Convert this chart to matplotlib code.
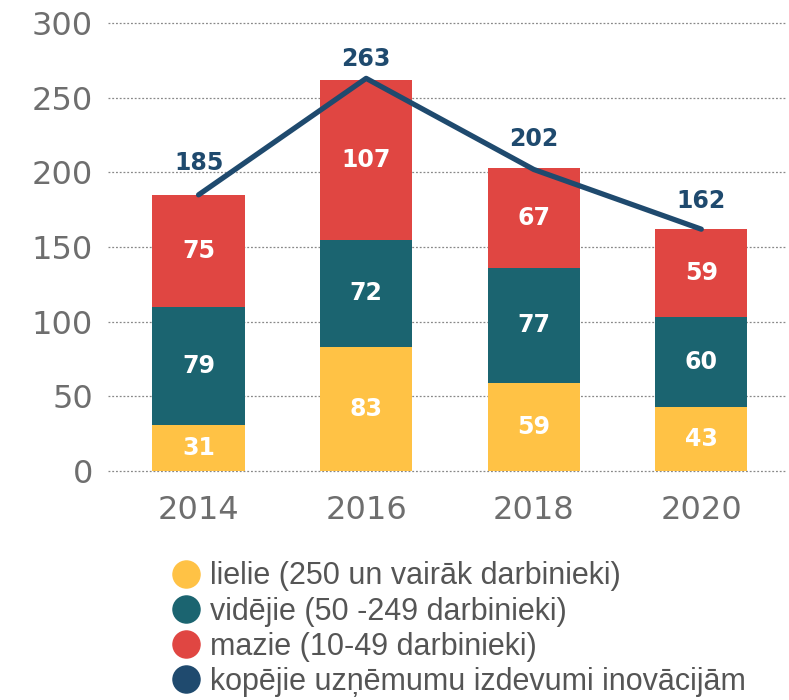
import matplotlib
matplotlib.use("Agg")
import matplotlib.pyplot as plt
from matplotlib.lines import Line2D
import numpy as np

years = ["2014", "2016", "2018", "2020"]
large = [31, 83, 59, 43]
medium = [79, 72, 77, 60]
small = [75, 107, 67, 59]
total = [185, 263, 202, 162]
legend_labels = [
    "lielie (250 un vairāk darbinieki)",
    "vidējie (50 -249 darbinieki)",
    "mazie (10-49 darbinieki)",
    "kopējie uzņēmumu izdevumi inovācijām",
]

c_large = "#FFC245"
c_medium = "#1B6470"
c_small = "#E04642"
c_total = "#1F4A6E"
gray = "#6E6E6E"

plt.rcParams["font.family"] = ["Liberation Sans", "DejaVu Sans"]
num_font = ["DejaVu Sans"]

fig = plt.figure(figsize=(7.89, 7.0), dpi=100)
ax = fig.add_axes([0.137, 0.327, 0.858, 0.640])

x = np.arange(len(years))
w = 0.55
b1 = ax.bar(x, large, w, color=c_large, zorder=2)
b2 = ax.bar(x, medium, w, bottom=large, color=c_medium, zorder=2)
bottom3 = np.array(large) + np.array(medium)
b3 = ax.bar(x, small, w, bottom=bottom3, color=c_small, zorder=2)

for vals, bots in [(large, [0]*4), (medium, large), (small, bottom3)]:
    for xi, v, b in zip(x, vals, bots):
        ax.text(xi, b + v / 2, str(v), ha="center", va="center", color="white",
                fontsize=17, fontweight="bold", family=num_font, zorder=4)

ax.plot(x, total, color=c_total, lw=3.8, zorder=3, solid_capstyle="round")
label_offsets = [18, 9, 17, 15.5]
for xi, t, off in zip(x, total, label_offsets):
    ax.annotate(str(t), (xi, t), xytext=(0, off), textcoords="offset points",
                ha="center", va="baseline", color=c_total, fontsize=17,
                fontweight="bold", family=num_font, zorder=4)

ax.set_ylim(0, 300)
ax.set_xlim(-0.54, 3.5)
ax.set_yticks([0, 50, 100, 150, 200, 250, 300])
ax.set_xticks(x)
ax.set_xticklabels(years)
ax.tick_params(axis="both", length=0, labelsize=23, colors=gray)
ax.tick_params(axis="y", pad=11)
ax.tick_params(axis="x", pad=17)
for lab in ax.get_xticklabels() + ax.get_yticklabels():
    lab.set_family(num_font)
ax.yaxis.grid(True, linestyle=(0, (1.5, 1.5)), color="#888888", lw=0.9, zorder=0)
for gl in ax.get_ygridlines():
    gl.set_clip_on(False)
ax.set_axisbelow(True)
for s in ax.spines.values():
    s.set_visible(False)

handles = [Line2D([], [], marker="o", linestyle="none", markersize=19.5, color=c)
           for c in [c_large, c_medium, c_small, c_total]]
fig.legend(handles, legend_labels, loc="upper left", bbox_to_anchor=(0.216, 0.198),
           frameon=False, fontsize=22, labelcolor="#555555", handletextpad=0.28,
           labelspacing=0.17, borderaxespad=0, handlelength=1.0, borderpad=0)

fig.savefig("out.png", dpi=100)
